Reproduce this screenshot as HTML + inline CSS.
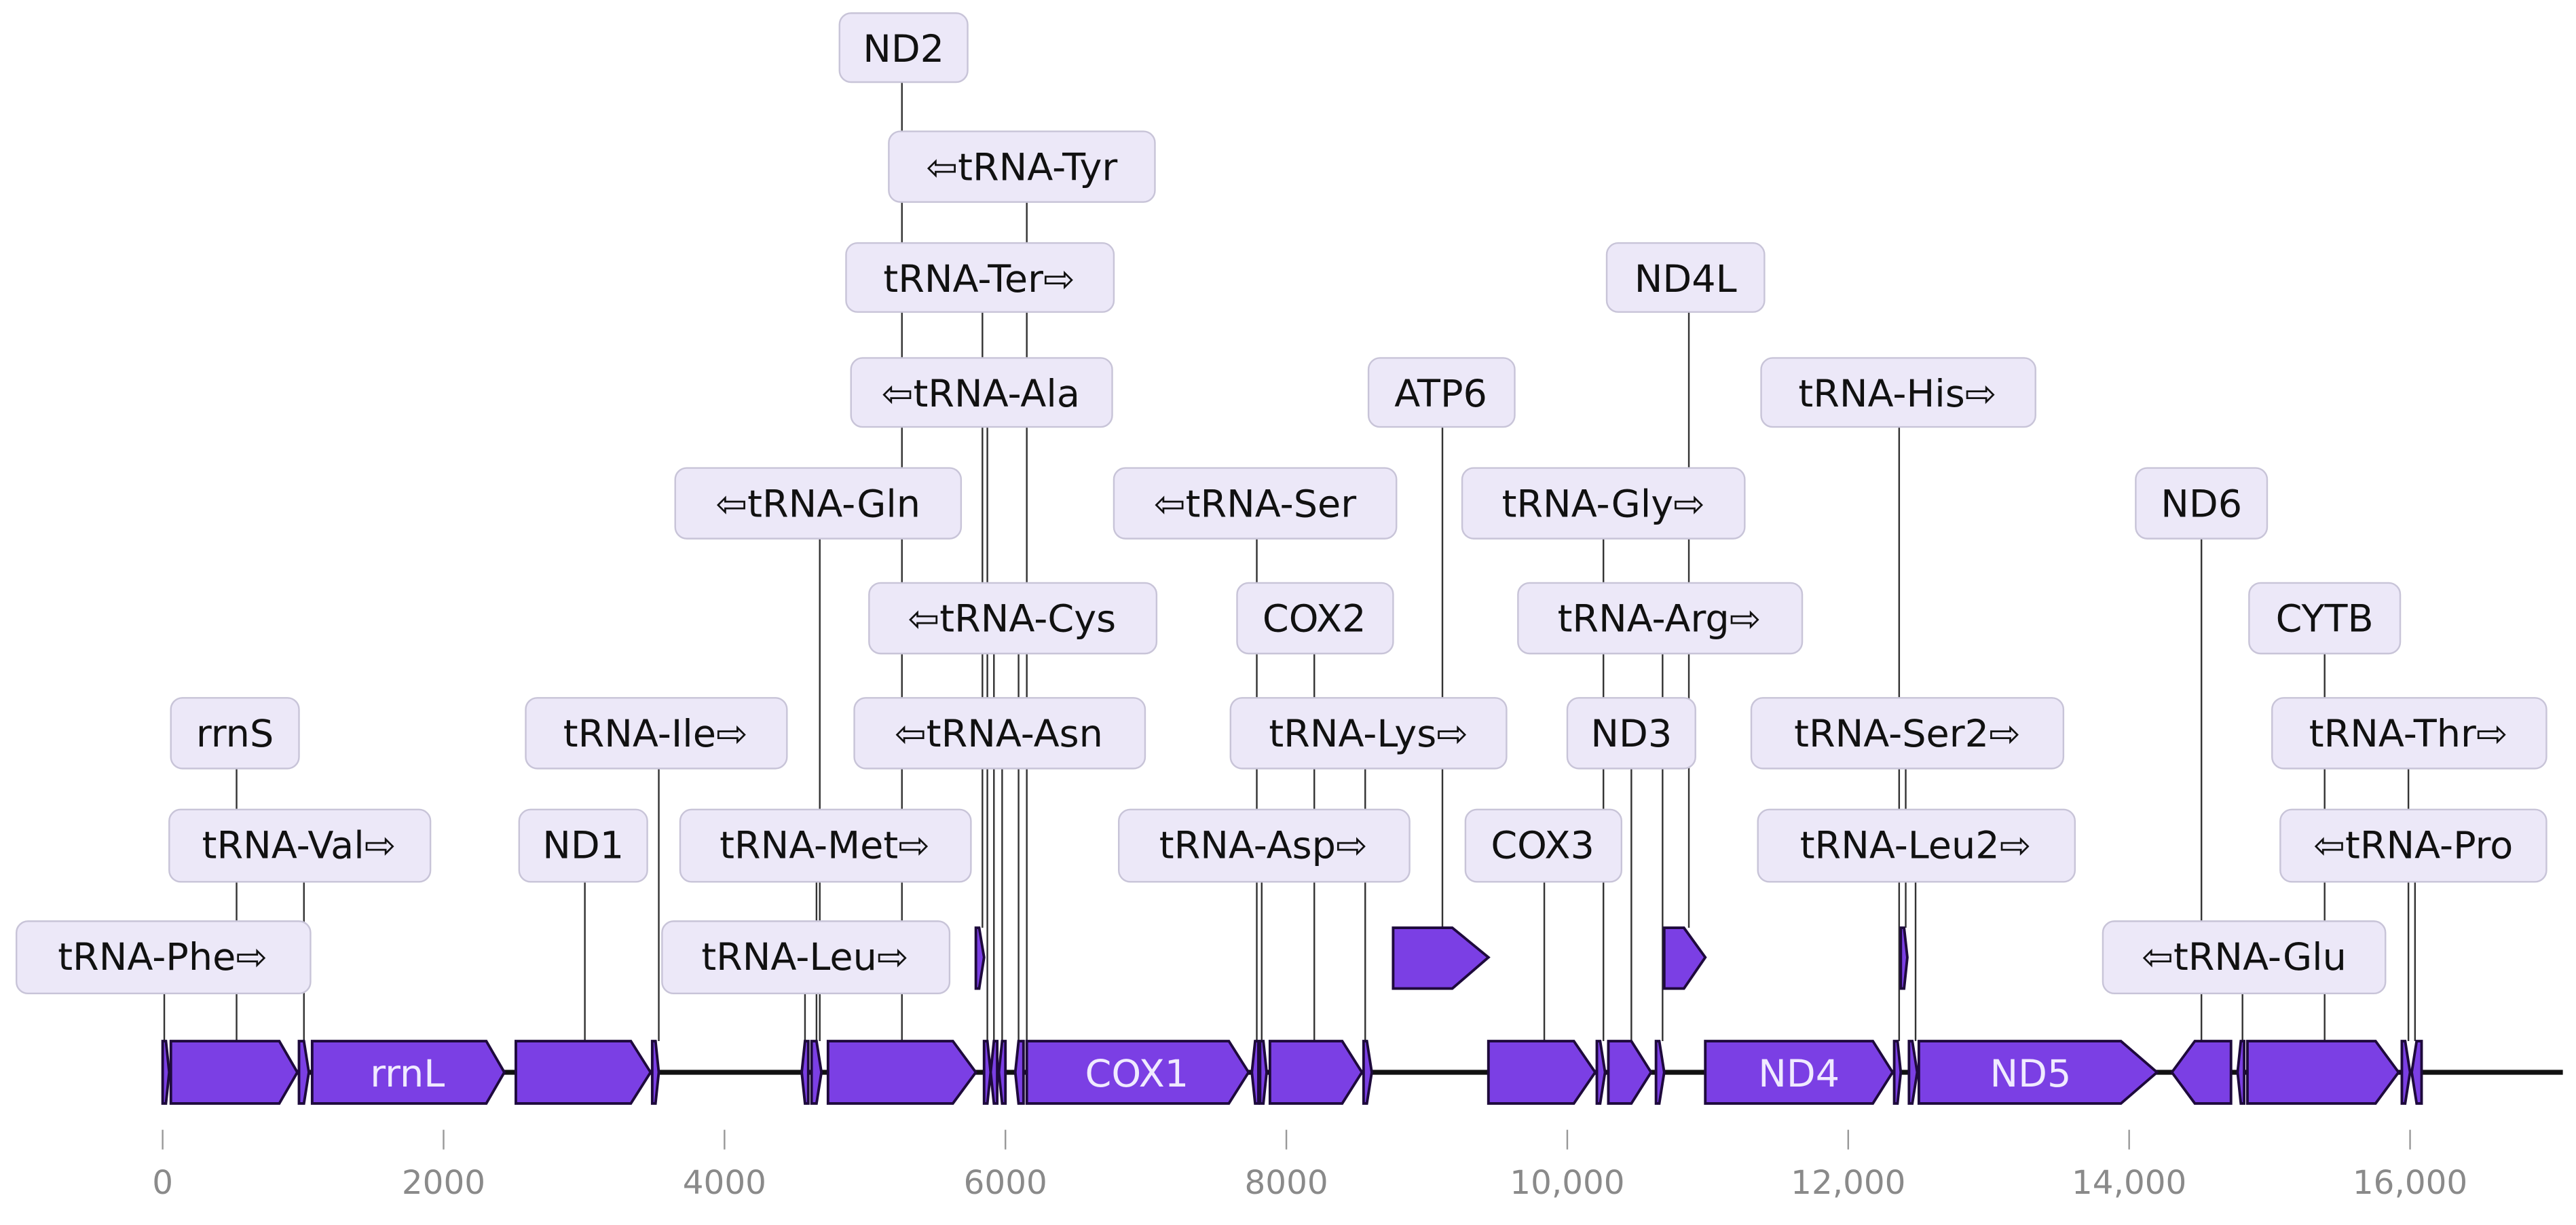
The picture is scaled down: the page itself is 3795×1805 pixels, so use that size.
<!DOCTYPE html>
<html><head><meta charset="utf-8"><style>
html,body{margin:0;padding:0;background:#fff;}
svg{display:block;}
.lb rect{fill:#ece8f8;stroke:#c8c4d8;stroke-width:1;}
.lb text{font-family:"DejaVu Sans","Liberation Sans",sans-serif;font-size:23px;fill:#111;text-anchor:middle;dominant-baseline:central;}
.ln{stroke:#333;stroke-width:1;}
.ft{fill:#7b3fe4;stroke:#1e0a3c;stroke-width:1.6;}
.ax text{font-family:"DejaVu Sans","Liberation Sans",sans-serif;font-size:20px;fill:#8a8a8a;text-anchor:middle;}
</style></head><body>
<svg width="3795" height="1805" viewBox="0 0 1568 746" preserveAspectRatio="none" xmlns="http://www.w3.org/2000/svg">
<rect width="1568" height="746" fill="#fff"/>
<!-- connector lines -->
<g class="ln">
<line x1="549" y1="50" x2="549" y2="634"/>
<line x1="625" y1="123" x2="625" y2="634"/>
<line x1="598" y1="190" x2="598" y2="565"/>
<line x1="601" y1="260" x2="601" y2="634"/>
<line x1="605" y1="398" x2="605" y2="634"/>
<line x1="610" y1="468" x2="610" y2="634"/>
<line x1="620" y1="398" x2="620" y2="634"/>
<line x1="1028" y1="190" x2="1028" y2="565"/>
<line x1="878" y1="260" x2="878" y2="565"/>
<line x1="1156" y1="260" x2="1156" y2="634"/>
<line x1="499" y1="328" x2="499" y2="634"/>
<line x1="765" y1="328" x2="765" y2="634"/>
<line x1="976" y1="328" x2="976" y2="634"/>
<line x1="1340" y1="328" x2="1340" y2="634"/>
<line x1="800" y1="398" x2="800" y2="634"/>
<line x1="1012" y1="398" x2="1012" y2="634"/>
<line x1="1415" y1="398" x2="1415" y2="634"/>
<line x1="144" y1="468" x2="144" y2="634"/>
<line x1="401" y1="468" x2="401" y2="634"/>
<line x1="831" y1="468" x2="831" y2="634"/>
<line x1="993" y1="468" x2="993" y2="634"/>
<line x1="1160" y1="468" x2="1160" y2="565"/>
<line x1="1466" y1="468" x2="1466" y2="634"/>
<line x1="185" y1="537" x2="185" y2="634"/>
<line x1="356" y1="537" x2="356" y2="634"/>
<line x1="497" y1="537" x2="497" y2="634"/>
<line x1="768" y1="537" x2="768" y2="634"/>
<line x1="940" y1="537" x2="940" y2="634"/>
<line x1="1166" y1="537" x2="1166" y2="634"/>
<line x1="1470" y1="537" x2="1470" y2="634"/>
<line x1="100" y1="605" x2="100" y2="634"/>
<line x1="490" y1="605" x2="490" y2="634"/>
<line x1="1365" y1="605" x2="1365" y2="634"/>
</g>
<!-- backbone -->
<line x1="99" y1="653" x2="1560" y2="653" stroke="#111" stroke-width="3"/>
<!-- features -->
<g class="ft">
<polygon points="99,634 101,634 103,653 101,672 99,672"/>
<polygon points="104,634 170,634 181,653 170,672 104,672"/>
<polygon points="182,634 185,634 188,653 185,672 182,672"/>
<polygon points="190,634 296,634 307,653 296,672 190,672"/>
<polygon points="314,634 384,634 396,653 384,672 314,672"/>
<polygon points="397,634 399,634 401,653 399,672 397,672"/>
<polygon points="488,653 490,634 492,634 492,672 490,672"/>
<polygon points="494,634 497,634 500,653 497,672 494,672"/>
<polygon points="504,634 580,634 594,653 580,672 504,672"/>
<polygon points="594,565 596,565 599,583 596,602 594,602"/>
<polygon points="599,634 601,634 603,653 601,672 599,672"/>
<polygon points="603,653 605,634 607,634 607,672 605,672"/>
<polygon points="608,653 610,634 612,634 612,672 610,672"/>
<polygon points="618,653 620,634 623,634 623,672 620,672"/>
<polygon points="625,634 748,634 760,653 748,672 625,672"/>
<polygon points="762,653 764,634 766,634 766,672 764,672"/>
<polygon points="767,634 769,634 771,653 769,672 767,672"/>
<polygon points="773,634 817,634 829,653 817,672 773,672"/>
<polygon points="830,634 832,634 835,653 832,672 830,672"/>
<polygon points="848,565 884,565 906,583 884,602 848,602"/>
<polygon points="906,634 958,634 971,653 958,672 906,672"/>
<polygon points="972,634 974,634 977,653 974,672 972,672"/>
<polygon points="979,634 993,634 1005,653 993,672 979,672"/>
<polygon points="1008,634 1010,634 1013,653 1010,672 1008,672"/>
<polygon points="1013,565 1025,565 1038,583 1025,602 1013,602"/>
<polygon points="1038,634 1140,634 1152,653 1140,672 1038,672"/>
<polygon points="1153,634 1155,634 1157,653 1155,672 1153,672"/>
<polygon points="1157,565 1159,565 1161,583 1159,602 1157,602"/>
<polygon points="1162,634 1164,634 1167,653 1164,672 1162,672"/>
<polygon points="1168,634 1291,634 1313,653 1291,672 1168,672"/>
<polygon points="1322,653 1336,634 1358,634 1358,672 1336,672"/>
<polygon points="1362,653 1364,634 1366,634 1366,672 1364,672"/>
<polygon points="1368,634 1446,634 1460,653 1446,672 1368,672"/>
<polygon points="1462,634 1464,634 1467,653 1464,672 1462,672"/>
<polygon points="1468,653 1471,634 1474,634 1474,672 1471,672"/>
</g>
<g font-family="DejaVu Sans, Liberation Sans, sans-serif" font-size="23" fill="#f0eaff" text-anchor="middle" dominant-baseline="central">
<text x="248" y="654">rrnL</text>
<text x="692" y="654">COX1</text>
<text x="1095" y="654">ND4</text>
<text x="1236" y="654">ND5</text>
</g>
<!-- labels -->
<g class="lb">
<rect x="511" y="8" width="78" height="42" rx="7"/><text x="550" y="30">ND2</text>
<rect x="541" y="80" width="162" height="43" rx="7"/><text x="622" y="102">⇦tRNA-Tyr</text>
<rect x="515" y="148" width="163" height="42" rx="7"/><text x="596" y="170">tRNA-Ter⇨</text>
<rect x="518" y="218" width="159" height="42" rx="7"/><text x="597" y="240">⇦tRNA-Ala</text>
<rect x="978" y="148" width="96" height="42" rx="7"/><text x="1026" y="170">ND4L</text>
<rect x="833" y="218" width="89" height="42" rx="7"/><text x="877" y="240">ATP6</text>
<rect x="1072" y="218" width="167" height="42" rx="7"/><text x="1155" y="240">tRNA-His⇨</text>
<rect x="411" y="285" width="174" height="43" rx="7"/><text x="498" y="307">⇦tRNA-Gln</text>
<rect x="678" y="285" width="172" height="43" rx="7"/><text x="764" y="307">⇦tRNA-Ser</text>
<rect x="890" y="285" width="172" height="43" rx="7"/><text x="976" y="307">tRNA-Gly⇨</text>
<rect x="1300" y="285" width="80" height="43" rx="7"/><text x="1340" y="307">ND6</text>
<rect x="529" y="355" width="175" height="43" rx="7"/><text x="616" y="377">⇦tRNA-Cys</text>
<rect x="753" y="355" width="95" height="43" rx="7"/><text x="800" y="377">COX2</text>
<rect x="924" y="355" width="173" height="43" rx="7"/><text x="1010" y="377">tRNA-Arg⇨</text>
<rect x="1369" y="355" width="92" height="43" rx="7"/><text x="1415" y="377">CYTB</text>
<rect x="104" y="425" width="78" height="43" rx="7"/><text x="143" y="447">rrnS</text>
<rect x="320" y="425" width="159" height="43" rx="7"/><text x="399" y="447">tRNA-Ile⇨</text>
<rect x="520" y="425" width="177" height="43" rx="7"/><text x="608" y="447">⇦tRNA-Asn</text>
<rect x="749" y="425" width="168" height="43" rx="7"/><text x="833" y="447">tRNA-Lys⇨</text>
<rect x="954" y="425" width="78" height="43" rx="7"/><text x="993" y="447">ND3</text>
<rect x="1066" y="425" width="190" height="43" rx="7"/><text x="1161" y="447">tRNA-Ser2⇨</text>
<rect x="1383" y="425" width="167" height="43" rx="7"/><text x="1466" y="447">tRNA-Thr⇨</text>
<rect x="103" y="493" width="159" height="44" rx="7"/><text x="182" y="515">tRNA-Val⇨</text>
<rect x="316" y="493" width="78" height="44" rx="7"/><text x="355" y="515">ND1</text>
<rect x="414" y="493" width="177" height="44" rx="7"/><text x="502" y="515">tRNA-Met⇨</text>
<rect x="681" y="493" width="177" height="44" rx="7"/><text x="769" y="515">tRNA-Asp⇨</text>
<rect x="892" y="493" width="95" height="44" rx="7"/><text x="939" y="515">COX3</text>
<rect x="1070" y="493" width="193" height="44" rx="7"/><text x="1166" y="515">tRNA-Leu2⇨</text>
<rect x="1388" y="493" width="162" height="44" rx="7"/><text x="1469" y="515">⇦tRNA-Pro</text>
<rect x="10" y="561" width="179" height="44" rx="7"/><text x="99" y="583">tRNA-Phe⇨</text>
<rect x="403" y="561" width="175" height="44" rx="7"/><text x="490" y="583">tRNA-Leu⇨</text>
<rect x="1280" y="561" width="172" height="44" rx="7"/><text x="1366" y="583">⇦tRNA-Glu</text>
</g>
<!-- axis -->
<g class="ax">
<g stroke="#999" stroke-width="1">
<line x1="99" y1="688" x2="99" y2="700"/><line x1="270" y1="688" x2="270" y2="700"/>
<line x1="441" y1="688" x2="441" y2="700"/><line x1="612" y1="688" x2="612" y2="700"/>
<line x1="783" y1="688" x2="783" y2="700"/><line x1="954" y1="688" x2="954" y2="700"/>
<line x1="1125" y1="688" x2="1125" y2="700"/><line x1="1296" y1="688" x2="1296" y2="700"/>
<line x1="1467" y1="688" x2="1467" y2="700"/>
</g>
<text x="99" y="727">0</text><text x="270" y="727">2000</text><text x="441" y="727">4000</text>
<text x="612" y="727">6000</text><text x="783" y="727">8000</text><text x="954" y="727">10,000</text>
<text x="1125" y="727">12,000</text><text x="1296" y="727">14,000</text><text x="1467" y="727">16,000</text>
</g>
</svg>
</body></html>
